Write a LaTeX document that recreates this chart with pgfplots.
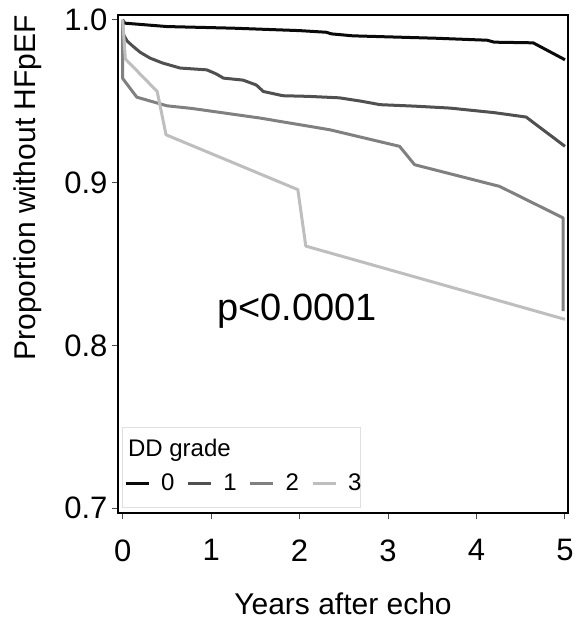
\documentclass[border=0pt]{standalone}
\usepackage{pgfplots}
\pgfplotsset{compat=1.18}
\usepackage{fontspec}
\setmainfont{Liberation Sans}
\definecolor{c0}{RGB}{10,10,10}
\definecolor{c1}{RGB}{80,80,80}
\definecolor{c2}{RGB}{128,128,128}
\definecolor{c3}{RGB}{190,190,190}
\begin{document}
\begin{tikzpicture}
\begin{axis}[
  scale only axis,
  width=450pt, height=498pt,
  xmin=-0.053, xmax=5.034,
  ymin=0.697, ymax=1.003,
  xtick={0,1,2,3,4,5},
  ytick={0.7,0.8,0.9,1.0},
  yticklabels={0.7,0.8,0.9,1.0},
  /pgf/number format/assume math mode=true,
  tick align=outside,
  major tick length=6pt,
  tick style={black!70, line width=1pt},
  xtick pos=bottom, ytick pos=left,
  axis line style={black, line width=2pt},
  ticklabel style={font=\fontsize{31}{36}\selectfont},
  xticklabel style={yshift=-17pt},
  yticklabel style={xshift=-1pt},
  xlabel={Years after echo},
  ylabel={Proportion without HFpEF},
  label style={font=\fontsize{30}{36}\selectfont},
  xlabel style={at={(axis description cs:0.5,-0.183)}, anchor=center},
  ylabel style={at={(axis description cs:-0.2,0.653)}, anchor=center, rotate=0},
  legend columns=4,
  legend style={draw=none, fill=none, inner sep=0pt,
    at={(rel axis cs:0.013,0.06)}, anchor=west,
    font=\fontsize{24}{28}\selectfont,
    /tikz/every even column/.append style={column sep=10pt}},
  legend image code/.code={\draw[#1] (0pt,0pt) -- (23pt,0pt); \path (32pt,0pt);},
  every axis plot/.append style={line width=3pt, line join=round},
]
\addplot[c0] coordinates {(0,1.0) (0.02,0.998) (0.5,0.9959) (1.25,0.9949) (2.0,0.9934) (2.3,0.9924) (2.36,0.9914) (2.6,0.9902) (3.55,0.9887) (4.12,0.9875) (4.2,0.9863) (4.64,0.9859) (5.0,0.9755)};
\addlegendentry{0}
\addplot[c1] coordinates {(0,1.0) (0,0.992) (0.05,0.987) (0.12,0.9836) (0.2,0.980) (0.31,0.9765) (0.45,0.9735) (0.65,0.9704) (0.95,0.9693) (1.05,0.967) (1.14,0.9642) (1.36,0.963) (1.51,0.960) (1.59,0.956) (1.81,0.9534) (2.1,0.953) (2.45,0.9521) (2.7,0.950) (2.91,0.9479) (3.3,0.947) (3.70,0.9458) (4.2,0.943) (4.56,0.9403) (5.0,0.9223)};
\addlegendentry{1}
\addplot[c2] coordinates {(0,1.0) (0,0.964) (0.16,0.9525) (0.5,0.9472) (0.78,0.9456) (1.55,0.9397) (2.34,0.9325) (3.13,0.9223) (3.30,0.911) (4.26,0.8977) (4.98,0.8783) (4.98,0.821)};
\addlegendentry{2}
\addplot[c3] coordinates {(0,1.0) (0.03,0.976) (0.39,0.956) (0.49,0.9294) (1.98,0.8957) (2.07,0.861) (5.0,0.816)};
\addlegendentry{3}
\node[font=\fontsize{38}{44}\selectfont, anchor=base] at (axis cs:1.97,0.8153) {p<0.0001};
\draw[black!12, line width=1pt] (rel axis cs:0.009,0.012) rectangle (rel axis cs:0.538,0.171);
\node[font=\fontsize{24}{28}\selectfont, anchor=base west, inner sep=0pt] at (rel axis cs:0.022,0.113) {DD grade};
\end{axis}
\pgfresetboundingbox
\path (current axis.south west) ++(-118pt,-114pt) coordinate (bl);
\path (current axis.north east) ++(9pt,15pt) coordinate (tr);
\path[use as bounding box] (bl) rectangle (tr);
\end{tikzpicture}
\end{document}
